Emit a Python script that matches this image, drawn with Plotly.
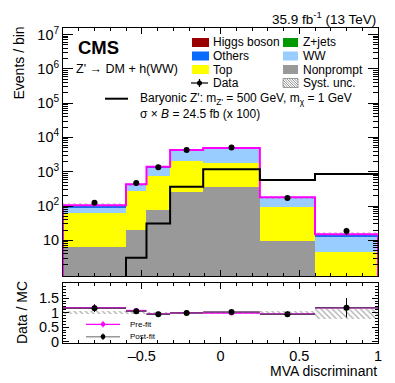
import numpy as np
import plotly.graph_objects as go

# MVA discriminant binning
bin_edges = [-1.0, -0.6, -0.47, -0.32, -0.11, 0.25, 0.6, 1.0]

# background yields per bin (stacked, bottom to top)
nonprompt = [6.5, 20, 76, 263, 350, 9.5, 0]
top = [56.5, 255, 684, 1787, 1480, 85.5, 4.6]
ww = [26, 125, 560, 2150, 2970, 77, 8.1]
others = [12, 20, 50, 80, 70, 5, 1.5]
zjets = [3, 8, 15, 10, 10, 2, 0.6]
higgs = [1, 2, 5, 10, 10, 1, 0.2]

syst_rel = [0.14, 0.08, 0.06, 0.05, 0.05, 0.08, 0.18]

data = [125, 470, 1340, 4300, 5100, 170, 18.7]
data_err = [11, 22, 37, 66, 71, 13, 4.4]

# Baryonic Z' (x 100), first bin is empty
signal = [0.5, 3.1, 31, 365, 1180, 575, 855]

# ratio panel
ratio_prefit = [1.17, 1.07, 0.955, 1.0, 0.99, 0.955, 1.17]
ratio_postfit = [1.15, 1.05, 0.945, 0.99, 1.02, 0.945, 1.17]
ratio_err = [0.13, 0.05, 0.03, 0.02, 0.02, 0.08, 0.33]
ratio_unc_lo = [0.04, 0.03, 0.03, 0.03, 0.03, 0.04, 0.22]
ratio_unc_hi = [0.04, 0.03, 0.03, 0.03, 0.03, 0.04, 0.12]

FONT = "Liberation Sans"
COLORS = {
    "Higgs boson": "#990000",
    "Z+jets": "#009a00",
    "Others": "#0a6cff",
    "WW": "#99ccff",
    "Top": "#ffff00",
    "Nonprompt": "#999999",
}

edges = np.array(bin_edges)
centers = 0.5 * (edges[1:] + edges[:-1])
widths = np.diff(edges)

layers = [
    ("Nonprompt", nonprompt),
    ("Top", top),
    ("WW", ww),
    ("Others", others),
    ("Z+jets", zjets),
    ("Higgs boson", higgs),
]
cumulative = np.cumsum([np.array(v, dtype=float) for _, v in layers], axis=0)
total = cumulative[-1]

fig = go.Figure()

# stack drawn as cumulative histograms, largest first
for i in reversed(range(len(layers))):
    name = layers[i][0]
    fig.add_trace(go.Bar(
        x=centers, y=cumulative[i], width=widths,
        marker=dict(color=COLORS[name], line=dict(width=0)),
        showlegend=False, xaxis="x", yaxis="y",
    ))

# systematic band on the total
syst = total * np.array(syst_rel)
fig.add_trace(go.Bar(
    x=centers, y=2 * syst, base=total - syst, width=widths,
    marker=dict(color="rgba(0,0,0,0)", line=dict(width=0),
                pattern=dict(shape="\\", fgcolor="#666666", bgcolor="rgba(0,0,0,0)",
                             size=4, solidity=0.25)),
    showlegend=False, xaxis="x", yaxis="y",
))

# total outline
fig.add_trace(go.Scatter(
    x=[edges[0]] + list(edges) + [edges[-1]],
    y=[0.1] + list(total) + [total[-1], 0.1],
    mode="lines", line=dict(color="#ff00ff", width=2, shape="hv"),
    showlegend=False, xaxis="x", yaxis="y",
))

# signal
fig.add_trace(go.Scatter(
    x=list(edges), y=list(signal) + [signal[-1]],
    mode="lines", line=dict(color="black", width=2, shape="hv"),
    showlegend=False, xaxis="x", yaxis="y",
))

# data
fig.add_trace(go.Scatter(
    x=centers, y=data, mode="markers",
    marker=dict(color="black", size=6),
    error_y=dict(type="data", array=data_err, color="black", thickness=1.5, width=0),
    showlegend=False, xaxis="x", yaxis="y",
))

# ratio: systematic band
fig.add_trace(go.Bar(
    x=centers, y=np.array(ratio_unc_lo) + np.array(ratio_unc_hi),
    base=1 - np.array(ratio_unc_lo), width=widths,
    marker=dict(color="rgba(0,0,0,0)", line=dict(width=0),
                pattern=dict(shape="\\", fgcolor="#555555", bgcolor="rgba(0,0,0,0)",
                             size=4, solidity=0.3)),
    showlegend=False, xaxis="x2", yaxis="y2",
))
fig.add_trace(go.Scatter(
    x=centers, y=ratio_prefit, mode="markers",
    marker=dict(color="#ff00ff", size=5),
    error_x=dict(type="data", array=widths / 2, color="#ff00ff", thickness=1.5, width=0),
    error_y=dict(type="data", array=ratio_err, color="#ff00ff", thickness=1, width=0),
    showlegend=False, xaxis="x2", yaxis="y2",
))
fig.add_trace(go.Scatter(
    x=centers, y=ratio_postfit, mode="markers",
    marker=dict(color="black", size=6),
    error_x=dict(type="data", array=widths / 2, color="#6a3a6a", thickness=1.5, width=0),
    error_y=dict(type="data", array=ratio_err, color="black", thickness=1, width=0),
    showlegend=False, xaxis="x2", yaxis="y2",
))

# ---- manual legend, pixel helpers ----
L, R, T, B = 63, 378, 28, 343
W, H = R - L, B - T


def px(x):
    return (x - L) / W


def py(y):
    return (B - y) / H


shapes = []
annotations = []


def text(x, y, s, size=12, xanchor="left", yanchor="middle", **kw):
    annotations.append(dict(
        x=px(x), y=py(y), xref="paper", yref="paper", text=s, showarrow=False,
        xanchor=xanchor, yanchor=yanchor, font=dict(family=FONT, size=size, color="black"), **kw))


def box(x0, y0, x1, y1, color, line=None):
    shapes.append(dict(type="rect", xref="paper", yref="paper",
                       x0=px(x0), x1=px(x1), y0=py(y0), y1=py(y1),
                       fillcolor=color, line=dict(width=0.8 if line else 0, color=line or color)))


def seg(x0, y0, x1, y1, color="black", width=1):
    shapes.append(dict(type="line", xref="paper", yref="paper",
                       x0=px(x0), x1=px(x1), y0=py(y0), y1=py(y1),
                       line=dict(color=color, width=width)))


def dot(x, y, r, color):
    shapes.append(dict(type="circle", xref="paper", yref="paper",
                       x0=px(x - r), x1=px(x + r), y0=py(y - r), y1=py(y + r),
                       fillcolor=color, line=dict(width=0)))


rows = [42.5, 56, 69.5, 83]
c1_box, c1_txt = (192, 209), 211
c2_box, c2_txt = (283, 298), 301
legend_left = [("Higgs boson", rows[0]), ("Others", rows[1]), ("Top", rows[2])]
legend_right = [("Z+jets", rows[0]), ("WW", rows[1]), ("Nonprompt", rows[2])]
for name, y in legend_left:
    box(c1_box[0], y - 4.5, c1_box[1], y + 4.5, COLORS[name])
    text(c1_txt, y, name)
for name, y in legend_right:
    box(c2_box[0], y - 4.5, c2_box[1], y + 4.5, COLORS[name])
    text(c2_txt, y, name)

# data entry
seg(191, rows[3], 208, rows[3], width=1.2)
seg(199.5, rows[3] - 4, 199.5, rows[3] + 4, width=1.2)
dot(199.5, rows[3], 2.5, "black")
text(c1_txt, rows[3], "Data")

# syst. unc. entry (hatched swatch)
hx0, hx1, hy0, hy1 = c2_box[0], c2_box[1], rows[3] - 4.5, rows[3] + 4.5
box(hx0, hy0, hx1, hy1, "white", line="#888888")
c = hx0 - hy1
while c < hx1 - hy0:
    xa = max(hx0, c + hy0)
    xb = min(hx1, c + hy1)
    if xb > xa:
        seg(xa, xa - c, xb, xb - c, color="#777777", width=0.8)
    c += 2.5
text(c2_txt, rows[3], "Syst. unc.")

# signal entry
seg(105, 98.7, 128, 98.7, width=2)
text(138, 98.7, "Baryonic Z': m<sub>Z'</sub> = 500 GeV, m<sub>\u03c7</sub> = 1 GeV")
text(138, 113.5, "\u03c3 \u00d7 <i>B</i> = 24.5 fb (x 100)")

# CMS labels
text(76, 47, "<b>CMS</b>", size=18.5)
text(74, 68.5, "Z' \u2192 DM + h(WW)", size=12.5)
text(378, 18, "35.9 fb<sup>-1</sup> (13 TeV)", size=13.5, xanchor="right")

# axis titles
text(18, 25, "Events / bin", size=14, xanchor="center", yanchor="top", textangle=-90)
text(22, 313, "Data / MC", size=14, xanchor="center", yanchor="middle", textangle=-90)
text(379, 371, "MVA discriminant", size=14, xanchor="right")

# ratio legend
seg(86, 324.3, 120, 324.3, color="#ff00ff", width=1.2)
seg(103, 321, 103, 327.5, color="#ff00ff", width=1)
dot(103, 324.3, 2.2, "#ff00ff")
text(128, 324.3, "Pre-fit", size=8)
seg(86, 336.7, 120, 336.7, color="#999999", width=1.5)
seg(103, 333.5, 103, 340, color="black", width=1)
dot(103, 336.7, 2.4, "black")
text(128, 336.7, "Post-fit", size=8)

main_lo = (B - 276) / H
ratio_hi = (B - 283) / H

axis_common = dict(showline=True, linecolor="black", linewidth=1, mirror="ticks",
                   ticks="inside", tickcolor="black", showgrid=False, zeroline=False,
                   tickfont=dict(family=FONT, size=14.5, color="black"))

log_minor = [m * 10 ** k for k in range(0, 8) for m in range(2, 10)]

fig.update_layout(
    width=395, height=383,
    margin=dict(l=L, r=395 - R, t=T, b=383 - B),
    paper_bgcolor="white", plot_bgcolor="white",
    barmode="overlay", bargap=0,
    showlegend=False,
    font=dict(family=FONT, color="black"),
    xaxis=dict(axis_common, domain=[0, 1], range=[-1, 1], anchor="y",
               tickvals=[-1, -0.5, 0, 0.5, 1], ticklen=6, showticklabels=False,
               minor=dict(dtick=0.1, ticks="inside", ticklen=3, tickcolor="black")),
    yaxis=dict(axis_common, domain=[main_lo, 1], type="log", range=[-0.04, 7.19], anchor="x",
               tickvals=[10 ** k for k in range(1, 8)],
               ticktext=["10"] + ["10<sup>%d</sup>" % k for k in range(2, 8)],
               ticklen=10,
               minor=dict(tickmode="array", tickvals=log_minor, ticks="inside", ticklen=5,
                          tickcolor="black")),
    xaxis2=dict(axis_common, domain=[0, 1], range=[-1, 1], anchor="y2", matches="x",
                tickvals=[-0.5, 0, 0.5, 1], ticktext=["\u20130.5", "0", "0.5", "1"], ticklen=6,
                minor=dict(dtick=0.1, ticks="inside", ticklen=3, tickcolor="black")),
    yaxis2=dict(axis_common, domain=[0, ratio_hi], range=[-0.045, 2.02], anchor="x2",
                tickvals=[0, 0.5, 1, 1.5], ticktext=["0", "0.5", "1", "1.5"], ticklen=6,
                minor=dict(dtick=0.1, ticks="inside", ticklen=3, tickcolor="black")),
    shapes=shapes,
    annotations=annotations,
)

# the page body has a default 8px margin; drop it so the figure sits at the origin
fig.write_html("out.html", config={"displayModeBar": False},
               post_script="document.body.style.margin = '0';")
